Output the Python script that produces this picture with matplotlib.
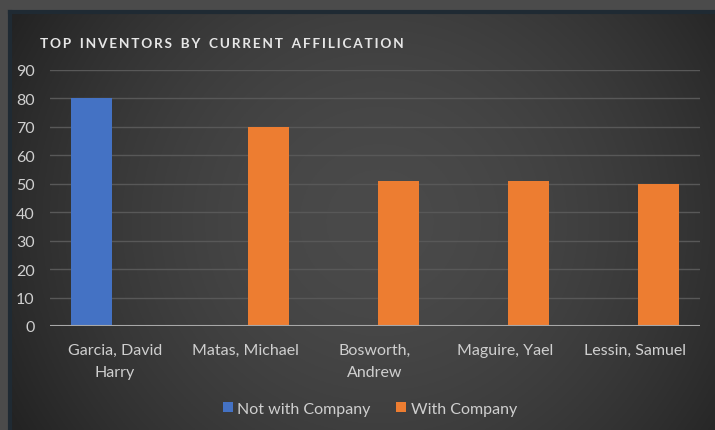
import numpy as np
import matplotlib.pyplot as plt

plt.rcParams["font.family"] = ["Lato", "DejaVu Sans"]

inventors = ["Garcia, David\nHarry", "Matas, Michael", "Bosworth,\nAndrew",
             "Maguire, Yael", "Lessin, Samuel"]
not_with_company = [80, 0, 0, 0, 0]
with_company = [0, 70, 51, 51, 50]
y_ticks = [0, 10, 20, 30, 40, 50, 60, 70, 80, 90]
title = "TOP INVENTORS BY CURRENT AFFILICATION"

W, H = 715, 431
fig = plt.figure(figsize=(W / 100, H / 100), dpi=100)
fig.patch.set_facecolor("#4b4b4b")

# chart-area background: dark edges, lighter centre
bg = fig.add_axes([10 / W, 0, 1 - 10 / W, 1 - 14 / H])
xx, yy = np.meshgrid(np.linspace(-1, 1, 400), np.linspace(-1, 1, 240))
r = np.sqrt(((xx - 0.05) / 1.1) ** 2 + (yy / 1.8) ** 2)
shade = np.clip(0.29 - 0.13 * r ** 1.8, 0.14, 0.29)
bg.imshow(np.dstack([shade, shade, shade]), aspect="auto", extent=[0, 1, 0, 1])
bg.axis("off")
# thin dark border on top and left
fig.add_artist(plt.Line2D([10 / W, 1], [1 - 13 / H] * 2, color="#1f2a33", lw=3))
fig.add_artist(plt.Line2D([10 / W] * 2, [0, 1 - 13 / H], color="#1f2a33", lw=3))

ax = fig.add_axes([50 / W, 1 - 327 / H, 650 / W, 256 / H])
ax.set_facecolor("none")
x = np.arange(len(inventors))
bw = 0.31
ax.bar(x - 0.18, not_with_company, bw, color="#4472c4", label="Not with Company", zorder=3)
ax.bar(x + 0.18, with_company, bw, color="#ed7d31", label="With Company", zorder=3)

ax.set_xlim(-0.5, len(inventors) - 0.5)
ax.set_ylim(0, 90)
ax.set_yticks(y_ticks)
ax.set_xticks(x)
ax.set_xticklabels(inventors, linespacing=1.8)
ax.grid(axis="y", color="#585858", lw=1, zorder=0)
ax.axhline(0, color="#a8a8a8", lw=1.5, zorder=4)
for s in ax.spines.values():
    s.set_visible(False)
ax.tick_params(length=0, colors="#cfcfcf", labelsize=11.5)
ax.tick_params(axis="x", pad=12)
ax.tick_params(axis="y", pad=11)

# letter-spaced title
spaced = "\u2002\u2009".join("\u2009".join(w) for w in title.split(" "))
fig.text(40 / W, 1 - 44 / H, spaced, color="#e6e6e6", fontsize=9.8,
         fontweight="bold", va="center")

leg = fig.legend(loc="center", bbox_to_anchor=(370 / W, 1 - 410 / H), ncol=2,
                 frameon=False, fontsize=11.5, handlelength=0.6, handleheight=0.6,
                 columnspacing=1.6, handletextpad=0.3)
for t in leg.get_texts():
    t.set_color("#cfcfcf")

fig.savefig("out.png", dpi=100, facecolor=fig.get_facecolor())
